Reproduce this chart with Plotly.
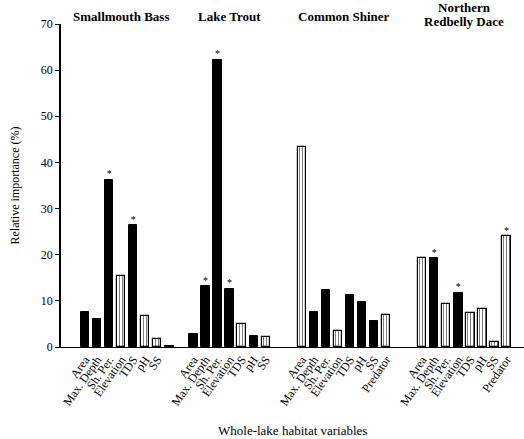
import plotly.graph_objects as go

# Relative importance (%) of whole-lake habitat variables for each species
species = ["Smallmouth Bass", "Lake Trout", "Common Shiner", "Northern<br>Redbelly Dace"]

smb_vars = ["Area", "Max. Depth", "Sh. Per.", "Elevation", "TDS", "pH", "SS", ""]
smb_vals = [7.6, 6.1, 36.3, 15.3, 26.4, 6.8, 1.8, 0.2]
smb_sig = [0, 0, 1, 0, 1, 0, 0, 0]
smb_sign = ["+", "+", "+", "-", "+", "-", "-", "+"]

lt_vars = ["Area", "Max. Depth", "Sh. Per.", "Elevation", "TDS", "pH", "SS"]
lt_vals = [2.9, 13.2, 62.2, 12.6, 4.9, 2.3, 2.2]
lt_sig = [0, 1, 1, 1, 0, 0, 0]
lt_sign = ["+", "+", "+", "+", "-", "+", "-"]

cs_vars = ["Area", "Max. Depth", "Sh. Per.", "Elevation", "TDS", "pH", "SS", "Predator"]
cs_vals = [43.3, 7.6, 12.4, 3.5, 11.2, 9.8, 5.7, 6.9]
cs_sig = [0, 0, 0, 0, 0, 0, 0, 0]
cs_sign = ["-", "+", "+", "-", "+", "+", "+", "-"]

nrd_vars = ["Area", "Max. Depth", "Sh. Per.", "Elevation", "TDS", "pH", "SS", "Predator"]
nrd_vals = [19.3, 19.2, 9.3, 11.8, 7.4, 8.3, 1.1, 24.0]
nrd_sig = [0, 1, 0, 1, 0, 0, 0, 1]
nrd_sign = ["-", "+", "-", "+", "-", "-", "-", "-"]

y_ticks = [0, 10, 20, 30, 40, 50, 60, 70]

groups = [
    (smb_vars, smb_vals, smb_sig, smb_sign),
    (lt_vars, lt_vals, lt_sig, lt_sign),
    (cs_vars, cs_vals, cs_sig, cs_sign),
    (nrd_vars, nrd_vals, nrd_sig, nrd_sign),
]
group_start = [0, 9, 18, 28]

SERIF = "Liberation Serif, Times New Roman, serif"

fig = go.Figure()

tickvals, ticktext = [], []
centers = []
star_x, star_y = [], []
solid_x, solid_y = [], []
hatch_x, hatch_y = [], []

for (names, vals, sig, sign), start in zip(groups, group_start):
    xs = [start + i for i in range(len(vals))]
    labelled = [x for x, n in zip(xs, names) if n]
    centers.append(sum(labelled) / len(labelled))
    for x, n, v, s, d in zip(xs, names, vals, sig, sign):
        if n:
            tickvals.append(x)
            ticktext.append(n)
        if d == "+":
            solid_x.append(x); solid_y.append(v)
        else:
            hatch_x.append(x); hatch_y.append(v)
        if s:
            star_x.append(x); star_y.append(v)

fig.add_trace(go.Bar(
    x=solid_x, y=solid_y, width=0.69,
    marker=dict(color="black", line=dict(color="black", width=1)),
    showlegend=False, hoverinfo="x+y",
))
fig.add_trace(go.Bar(
    x=hatch_x, y=hatch_y, width=0.69,
    marker=dict(
        color="white",
        line=dict(color="black", width=1.2),
        pattern=dict(shape="|", fgcolor="black", bgcolor="white",
                     size=3, solidity=0.35),
    ),
    showlegend=False, hoverinfo="x+y",
))
fig.add_trace(go.Scatter(
    x=star_x, y=star_y, mode="text", text=["*"] * len(star_x),
    textposition="top center",
    textfont=dict(family=SERIF, size=10, color="black"),
    showlegend=False, hoverinfo="skip",
))

plot_h = 439 - 24 - 91.5
annotations = []
for name, cx in zip(species, centers):
    lines = name.split("<br>")
    # single-line titles sit ~16 px from the top; two-line titles stack at 7 and 21 px
    ys = [16] if len(lines) == 1 else [7.5, 21.5]
    for line, ypx in zip(lines, ys):
        annotations.append(dict(
            x=cx, xref="x", y=1 + (24 - ypx) / plot_h, yref="paper",
            text=f"<b>{line}</b>", showarrow=False, yanchor="middle",
            font=dict(family=SERIF, size=13, color="black"),
        ))
annotations.append(dict(
    x=(14 - 61) / 463, xref="paper", y=0.5, yref="paper",
    text="Relative importance (%)", textangle=-90, showarrow=False,
    xanchor="center", yanchor="middle",
    font=dict(family=SERIF, size=12, color="black"),
))
annotations.append(dict(
    x=0.5, xref="paper", y=-(431 - 347.5) / plot_h, yref="paper",
    text="Whole-lake habitat variables", showarrow=False,
    xanchor="center", yanchor="middle",
    font=dict(family=SERIF, size=13, color="black"),
))

fig.update_layout(
    width=524, height=439,
    margin=dict(l=61, r=0, t=24, b=91.5),
    plot_bgcolor="white", paper_bgcolor="white",
    bargap=0,
    annotations=annotations,
    font=dict(family=SERIF, size=12, color="black"),
)
fig.update_xaxes(
    range=[-2, 36.45], tickmode="array", tickvals=tickvals, ticktext=ticktext,
    tickangle=-55, ticks="", showgrid=False, zeroline=False,
    showline=True, linecolor="black", linewidth=1,
    tickfont=dict(family=SERIF, size=12, color="black"),
)
fig.update_yaxes(
    range=[0, 70], tickvals=y_ticks, ticks="outside", ticklen=4,
    tickcolor="black", showgrid=False, zeroline=False,
    showline=True, linecolor="black", linewidth=1.5,
    tickfont=dict(family=SERIF, size=12, color="black"),
)

fig.write_html("out.html")
